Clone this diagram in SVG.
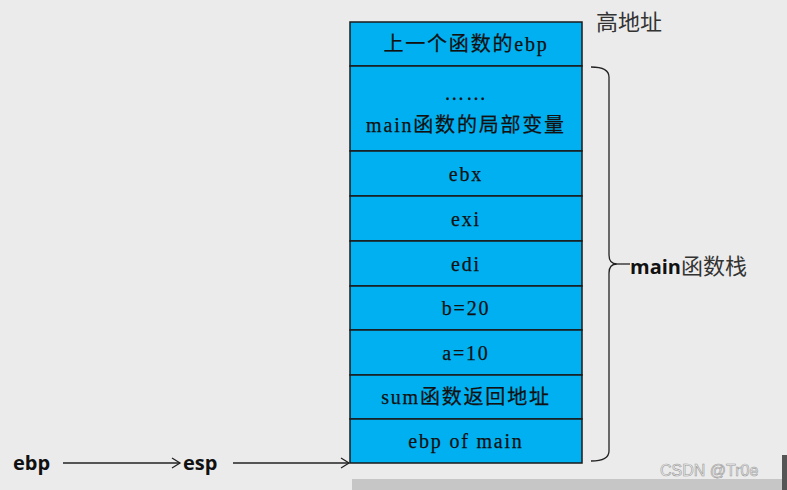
<svg xmlns="http://www.w3.org/2000/svg" width="787" height="490" viewBox="0 0 787 490">
<defs>
<style>
.cell{fill:#00b0f0;stroke:#1a1a1a;stroke-width:1.5}
.ct{font-family:"Liberation Serif","Noto Sans CJK SC",serif;font-size:20px;fill:#111;text-anchor:middle;letter-spacing:1.8px;stroke:#111;stroke-width:0.25}
.lbl{font-family:"Open Sans","Noto Sans CJK SC",sans-serif;font-weight:bold;font-size:20px;fill:#111}
.cjk{font-family:"Noto Sans CJK SC",sans-serif;font-size:22px;fill:#333}
.conn{stroke:#222;stroke-width:1.3;fill:none}
</style>
<marker id="ah" markerWidth="12" markerHeight="12" refX="10" refY="6" orient="auto" markerUnits="userSpaceOnUse">
<path d="M2,1 L10,6 L2,11" fill="none" stroke="#222" stroke-width="1.3"/>
</marker>
</defs>
<rect width="787" height="490" fill="#ebebeb"/>
<rect x="352" y="479" width="430" height="11" fill="#c6c6c6"/>
<rect x="782" y="455" width="5" height="35" fill="#555"/>

<g id="stack">
<g id="n1"><rect class="cell" x="350" y="22" width="232" height="44"/><text class="ct" x="466" y="51">上一个函数的ebp</text></g>
<g id="n2"><rect class="cell" x="350" y="66" width="232" height="85"/><text class="ct" x="466" y="100" letter-spacing="0">……</text><text class="ct" x="466" y="132">main函数的局部变量</text></g>
<g id="n3"><rect class="cell" x="350" y="151" width="232" height="45"/><text class="ct" x="466" y="181">ebx</text></g>
<g id="n4"><rect class="cell" x="350" y="196" width="232" height="45"/><text class="ct" x="466" y="226">exi</text></g>
<g id="n5"><rect class="cell" x="350" y="241" width="232" height="45"/><text class="ct" x="466" y="271">edi</text></g>
<g id="n6"><rect class="cell" x="350" y="286" width="232" height="44"/><text class="ct" x="466" y="315">b=20</text></g>
<g id="n7"><rect class="cell" x="350" y="330" width="232" height="45"/><text class="ct" x="466" y="360">a=10</text></g>
<g id="n8"><rect class="cell" x="350" y="375" width="232" height="44"/><text class="ct" x="466" y="404">sum函数返回地址</text></g>
<g id="n9"><rect class="cell" x="350" y="419" width="232" height="44"/><text class="ct" x="466" y="448">ebp of main</text></g>
</g>

<g id="high"><text class="cjk" x="596" y="30" font-size="23">高地址</text></g>
<g id="brace-label">
<text x="630" y="274"><tspan class="lbl" font-size="21">main</tspan><tspan class="cjk">函数栈</tspan></text>
</g>
<g id="ebp-label"><text class="lbl" x="13" y="470">ebp</text></g>
<g id="esp-label"><text class="lbl" x="183" y="470">esp</text></g>

<g id="connectors">
<path class="conn" d="M591,67 Q609,67 609,77 L609,255 Q609,264 617,264 Q609,264 609,273 L609,451 Q609,461 591,461"/>
<line class="conn" x1="617" y1="264" x2="630" y2="264"/>
<line class="conn" x1="63" y1="463" x2="180" y2="463" marker-end="url(#ah)"/>
<line class="conn" x1="233" y1="463" x2="349" y2="463" marker-end="url(#ah)"/>
</g>

<text x="660" y="476" font-family="Liberation Sans,sans-serif" font-size="16" fill="#f4f4f4" stroke="#999" stroke-width="0.6">CSDN @Tr0e</text>
</svg>
